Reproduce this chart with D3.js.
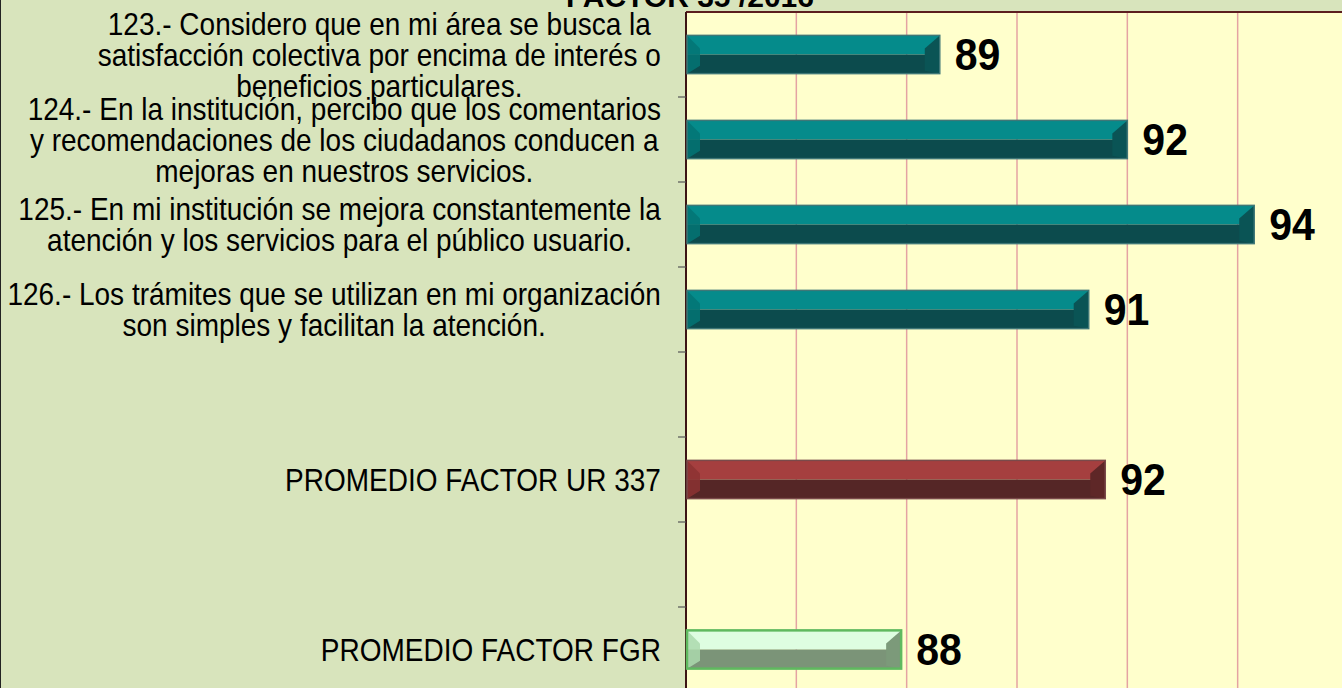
<!DOCTYPE html>
<html>
<head>
<meta charset="utf-8">
<script src="https://cdn.jsdelivr.net/npm/d3@7"></script>
<style>
  html, body { margin: 0; padding: 0; background: #d8e4bc; overflow: hidden; }
  svg { display: block; font-family: "Liberation Sans", Arial, sans-serif; }
</style>
</head>
<body>
<svg id="chart" width="1342" height="688"></svg>
<script>
// chart data
const titleText = "FACTOR 35 /2016";
const categories = ["q123", "q124", "q125", "q126", "gap1", "ur337", "gap2", "fgr"];
const labelLines = [
  ["123.- Considero que en mi área se busca la", "satisfacción colectiva por encima de interés o", "beneficios particulares."],
  ["124.- En la institución, percibo que los comentarios", "y recomendaciones de los ciudadanos conducen a", "mejoras en nuestros servicios."],
  ["125.- En mi institución se mejora constantemente la", "atención y los servicios para el público usuario."],
  ["126.- Los trámites que se utilizan en mi organización", "son simples y facilitan la atención."],
  [],
  ["PROMEDIO FACTOR UR 337"],
  [],
  ["PROMEDIO FACTOR FGR"]
];
const values = [88.6, 92.0, 94.3, 91.3, null, 91.6, null, 87.9];
const valueLabels = ["89", "92", "94", "91", "", "92", "", "88"];
const barStyle = ["teal", "teal", "teal", "teal", null, "red", null, "green"];
const gridValues = [86, 88, 90, 92, 94, 96];

// bevel colours for each style
const palettes = {
  teal:  { top: "#058b8b", bottom: "#0c4b4d", left: "#047474", right: "#0a5455", edge: "#3f7777", ew: 1.5 },
  red:   { top: "#a53f3f", bottom: "#552626", left: "#8c3232", right: "#5e2727", edge: "#7a4a4a", ew: 1.5 },
  green: { top: "#defde1", bottom: "#7b9478", left: "#abd9ad", right: "#7c9a7a", edge: "#5fb95f", ew: 2.5 }
};

const svg = d3.select("#chart");
const plotLeft = 686, plotTop = 12;

const x = d3.scaleLinear().domain([84, 96]).range([plotLeft, 1348]);
const y = d3.scaleBand().domain(categories).range([plotTop, 692])
  .paddingInner(0.55).paddingOuter(0.275);
const step = y.step();

// left panel border
svg.append("line").attr("x1", 0.5).attr("x2", 0.5).attr("y1", 0).attr("y2", 688)
  .attr("stroke", "#222").attr("stroke-width", 1);

// plot background
svg.append("rect").attr("x", plotLeft).attr("y", plotTop)
  .attr("width", 1342 - plotLeft).attr("height", 688 - plotTop)
  .attr("fill", "#ffffcc");

// vertical gridlines
svg.selectAll(".grid").data(gridValues).enter().append("line")
  .attr("class", "grid")
  .attr("x1", d => x(d)).attr("x2", d => x(d))
  .attr("y1", plotTop).attr("y2", 688)
  .attr("stroke", "#e4a3a3").attr("stroke-width", 1.5);

// plot border (top and left)
svg.append("line").attr("x1", plotLeft).attr("x2", 1342).attr("y1", plotTop).attr("y2", plotTop)
  .attr("stroke", "#5c1e1e").attr("stroke-width", 2);
svg.append("line").attr("x1", plotLeft).attr("x2", plotLeft).attr("y1", plotTop).attr("y2", 688)
  .attr("stroke", "#3c1414").attr("stroke-width", 2);

// category separator ticks
const tickCats = categories.slice(0, categories.length - 1);
svg.selectAll(".ytick").data(tickCats).enter().append("line")
  .attr("class", "ytick")
  .attr("x1", plotLeft - 8).attr("x2", plotLeft)
  .attr("y1", d => y(d) + y.bandwidth() / 2 + step / 2)
  .attr("y2", d => y(d) + y.bandwidth() / 2 + step / 2)
  .attr("stroke", "#555").attr("stroke-width", 1.2);

// bevelled bars
const rows = categories.map((c, i) => ({ cat: c, v: values[i], lab: valueLabels[i], style: barStyle[i], lines: labelLines[i] }));
const bars = svg.selectAll(".bar").data(rows.filter(r => r.v !== null)).enter()
  .append("g").attr("class", "bar");

bars.each(function (d) {
  const g = d3.select(this);
  const p = palettes[d.style];
  const x0 = x(84) + 1, x1 = x(d.v);
  const y0 = y(d.cat), h = y.bandwidth(), y1 = y0 + h;
  const b = 13;
  g.append("rect").attr("x", x0).attr("y", y0).attr("width", x1 - x0).attr("height", h / 2)
    .attr("fill", p.top);
  g.append("rect").attr("x", x0).attr("y", y0 + h / 2).attr("width", x1 - x0).attr("height", h / 2)
    .attr("fill", p.bottom);
  g.append("polygon")
    .attr("points", [[x0, y0], [x0 + b, y0 + b], [x0 + b, y1 - b * 0.6], [x0, y1]].join(" "))
    .attr("fill", p.left).attr("opacity", 0.85);
  g.append("polygon")
    .attr("points", [[x1, y0], [x1 - b - 2, y0 + b], [x1 - b - 2, y1 - 3], [x1, y1]].join(" "))
    .attr("fill", p.right);
  g.append("rect").attr("x", x0).attr("y", y0).attr("width", x1 - x0).attr("height", h)
    .attr("fill", "none").attr("stroke", p.edge).attr("stroke-width", p.ew);

  // value label, a little stretched vertically like the original
  g.append("text")
    .attr("transform", `translate(${x1 + 15},${y0 + h / 2}) scale(1,1.08)`)
    .attr("dy", "0.36em")
    .attr("font-size", 41).attr("font-weight", "bold").attr("fill", "#000")
    .text(d.lab);
});

// category labels: right-aligned blocks, lines centred within the block
const labelRight = 661, lineGap = 31;
rows.forEach(r => {
  if (!r.lines.length) return;
  const g = svg.append("g").attr("class", "catlabel");
  const cy = y(r.cat) + y.bandwidth() / 2;
  const n = r.lines.length;
  const texts = r.lines.map((t, k) => g.append("text")
    .attr("dy", "0.36em")
    .attr("font-size", 28).attr("fill", "#000")
    .attr("text-anchor", "middle")
    .datum(cy + (k - (n - 1) / 2) * lineGap)
    .text(t));
  const maxW = d3.max(texts, t => t.node().getComputedTextLength());
  texts.forEach(t => t.attr("transform", d => `translate(${labelRight - maxW / 2},${d}) scale(1,1.12)`));
});

// title (cut off at the top like the original)
svg.append("text")
  .attr("x", 690).attr("y", 7)
  .attr("text-anchor", "middle")
  .attr("font-size", 30).attr("font-weight", "bold").attr("fill", "#000")
  .text(titleText);
</script>
</body>
</html>
